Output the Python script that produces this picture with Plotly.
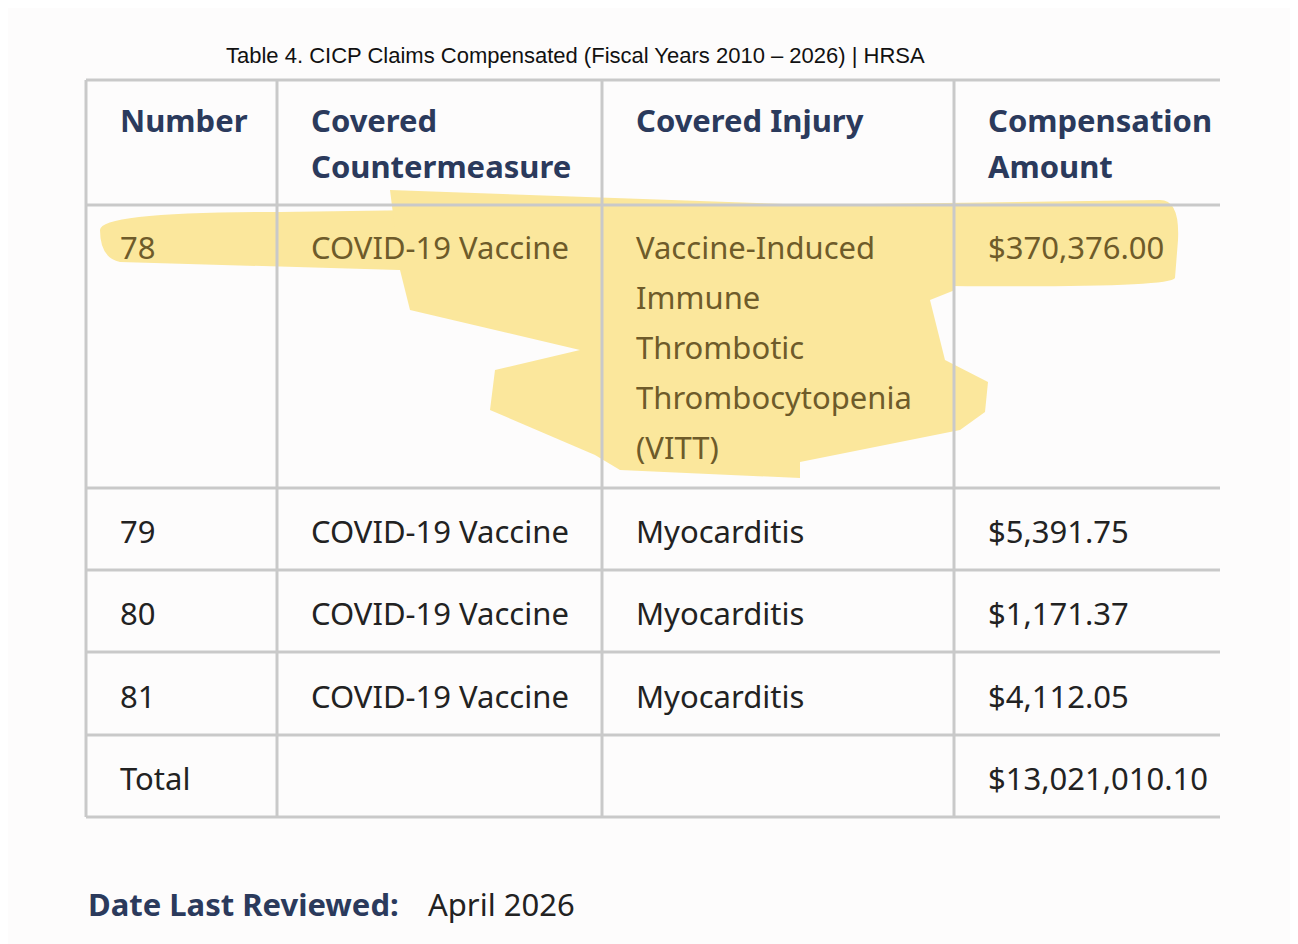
import plotly.graph_objects as go

title = "Table 4. CICP Claims Compensated (Fiscal Years 2010 – 2026) | HRSA"
headers = [["Number"], ["Covered", "Countermeasure"], ["Covered Injury"], ["Compensation", "Amount"]]
numbers = ["78", "79", "80", "81", "Total"]
countermeasures = ["COVID-19 Vaccine", "COVID-19 Vaccine", "COVID-19 Vaccine", "COVID-19 Vaccine", ""]
injuries = [["Vaccine-Induced", "Immune", "Thrombotic", "Thrombocytopenia", "(VITT)"],
            ["Myocarditis"], ["Myocarditis"], ["Myocarditis"], [""]]
amounts = ["$370,376.00", "$5,391.75", "$1,171.37", "$4,112.05", "$13,021,010.10"]
reviewed_label = "Date Last Reviewed:"
reviewed_date = "April 2026"

# page body has an 8px margin, so the plot area is shifted by that much
OFF = 8
W, H = 1298, 944
col_x = [86, 277, 602, 954, 1220]
row_y = [80, 205, 488, 570, 652, 735, 817]
pad = 32
line_h = 50
navy = "#2b3a5c"
grid = "#c9c9c9"
hl = "#fbe79c"

fig = go.Figure()
shapes = []
ann = []

# highlight blobs
shapes.append(dict(type="path", path="M 100 230 Q 100 212 280 212 L 1160 200 Q 1180 200 1178 240 L 1175 278 Q 1170 288 950 286 L 120 262 Q 100 258 100 230 Z",
                   fillcolor=hl, line_width=0, layer="below"))
shapes.append(dict(type="path", path="M 390 190 L 950 210 L 955 290 L 930 300 L 945 360 L 988 382 L 985 412 L 960 430 L 800 462 L 800 478 L 620 470 L 595 455 L 490 410 L 495 370 L 580 350 L 410 310 L 400 270 Z",
                   fillcolor=hl, line_width=0, layer="below"))

# grid lines
for y in row_y:
    shapes.append(dict(type="line", x0=col_x[0], x1=col_x[-1], y0=y, y1=y, line=dict(color=grid, width=3)))
for x in col_x[:-1]:
    shapes.append(dict(type="line", x0=x, x1=x, y0=row_y[0], y1=row_y[-1], line=dict(color=grid, width=3)))


def cell(col, y, text, color, bold=False):
    ann.append(dict(x=col_x[col] + pad, y=y, text=f"<b>{text}</b>" if bold else text, showarrow=False,
                    xanchor="left", yanchor="middle",
                    font=dict(family="Noto Sans", size=31, color=color)))


for c, lines in enumerate(headers):
    for k, t in enumerate(lines):
        cell(c, 120 + k * 46, t, navy, bold=True)

for r in range(len(numbers)):
    top, bot = row_y[r + 1], row_y[r + 2]
    y0 = 247 if r == 0 else (top + bot) / 2 + 2
    color = "#6e5b2a" if r == 0 else "#222222"
    cell(0, y0, numbers[r], color)
    cell(1, y0, countermeasures[r], color)
    for k, t in enumerate(injuries[r]):
        cell(2, y0 + k * line_h, t, color)
    cell(3, y0, amounts[r], color)

ann.append(dict(x=575, y=55, text=title, showarrow=False, xanchor="center", yanchor="middle",
                font=dict(family="Liberation Sans", size=22, color="#111111")))
ann.append(dict(x=86, y=904, text=f"<b>{reviewed_label}</b>", showarrow=False, xanchor="left", yanchor="middle",
                font=dict(family="Noto Sans", size=31, color=navy)))
ann.append(dict(x=426, y=904, text=reviewed_date, showarrow=False, xanchor="left", yanchor="middle",
                font=dict(family="Noto Sans", size=31, color="#222222")))

fig.update_layout(width=W, height=H, margin=dict(l=0, r=0, t=0, b=0),
                  paper_bgcolor="#fdfcfc", plot_bgcolor="#fdfcfc",
                  xaxis=dict(range=[OFF, W + OFF], visible=False, fixedrange=True),
                  yaxis=dict(range=[H + OFF, OFF], visible=False, fixedrange=True),
                  shapes=shapes, annotations=ann, showlegend=False)
fig.write_html("out.html")
